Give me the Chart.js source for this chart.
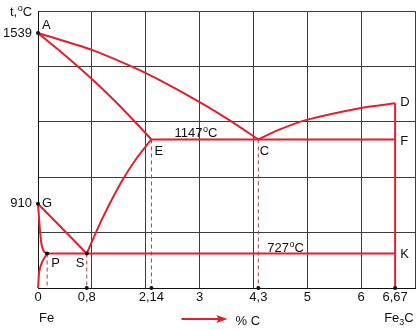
<!DOCTYPE html>
<html>
<head>
<meta charset="utf-8">
<script src="https://cdn.jsdelivr.net/npm/chart.js@4.4.1/dist/chart.umd.min.js"></script>
<style>
html,body{margin:0;padding:0;background:#fff}
</style>
</head>
<body>
<canvas id="diagrama" width="419" height="330"></canvas>
<script>
// подписи осей
const carbonTicks=[0,0.8,2.14,3,4.3,5,6,6.67]
const tempTicks=[910,1539]
const axisDots=[0.8,2.14,4.3,6.67]

// линии диаграммы Fe-Fe3C: [C %, t °C]
const lineAC=[[0,1539],[0.92,1476],[1.75,1414],[2.28,1366],[3.04,1281],[3.65,1219],[4.3,1147]]
const lineAE=[[0,1539],[0.49,1448],[1.03,1349],[1.65,1240],[2.14,1147]]
const lineCD=[[4.3,1147],[4.59,1182],[4.99,1219],[6,1263],[6.67,1280]]
const lineECF=[[2.14,1147],[6.67,1147]]
const lineDK=[[6.67,1280],[6.67,600]]
const lineGS=[[0,910],[0.8,727]]
const lineSE=[[0.8,727],[1.11,851],[1.52,991],[1.83,1077],[2.14,1147]]
const lineGP=[[0,910],[0.03,820],[0.06,758],[0.1,734],[0.15,727]]
const linePQ=[[0,600],[0.005,611],[0.02,660],[0.07,697],[0.15,727]]
const linePSK=[[0.15,727],[6.67,727]]

// характерные точки
const pointNames=['A','G','P','S','E','C','D','F','K']
const pointC=[0,0,0.15,0.8,2.14,4.3,6.67,6.67,6.67]
const pointT=[1539,910,727,727,1147,1147,1280,1147,727]
const isotherms=[1147,727]

const red='#e0202c'
const redDash='#a8404c'
const gridColor='#3c3c3c'
const font='"Liberation Sans", Arial, sans-serif'

// ось x схематичная: сетка через 1, подписи стоят на своих местах
const warpC=[0,0.8,2.14,3,4.3,5,6,6.67,7]
const warpG=[0,0.905,2.106,3,4.091,5,6,6.631,7]

function piecewise(v,from,to){
if(v==null || isNaN(v)) return v
if(v<=from[0]) return to[0]+(v-from[0])
for(let i=1;i<from.length;i++){
if(v<=from[i]){
const k=(v-from[i-1])/(from[i]-from[i-1])
return to[i-1]+k*(to[i]-to[i-1])
}
}
return to[to.length-1]+(v-from[from.length-1])
}

class CarbonScale extends Chart.LinearScale{
getPixelForValue(v){ return super.getPixelForValue(piecewise(v,warpC,warpG)) }
getValueForPixel(p){ return piecewise(super.getValueForPixel(p),warpG,warpC) }
}
CarbonScale.id='carbon'
CarbonScale.defaults=Chart.LinearScale.defaults
Chart.register(CarbonScale)

const xy=pts=>pts.map(p=>({x:p[0],y:p[1]}))

function line(pts,tension){
return {data:xy(pts),borderColor:red,borderWidth:2,pointRadius:0,showLine:true,tension:tension||0,clip:false}
}

function dashed(i){
return {data:xy([[pointC[i],pointT[i]],[pointC[i],600]]),borderColor:redDash,borderWidth:1,borderDash:[4,3],pointRadius:0,showLine:true,clip:false}
}

const dots=[0,1,2,3].map(i=>({x:pointC[i],y:pointT[i]})).concat(axisDots.map(c=>({x:c,y:600})))

const datasets=[
{data:dots,pointRadius:2,pointBackgroundColor:'#111',pointBorderWidth:0,showLine:false,clip:false},
line(lineAC,0.3),line(lineAE,0.3),line(lineCD,0.3),line(lineSE,0.3),
line(lineGP,0.3),line(linePQ,0.3),
line(lineECF),line(lineDK),line(lineGS),line(linePSK),
dashed(2),dashed(3),dashed(4),dashed(5)
]

// "o" вверху как знак градуса
function degText(ctx,txt,x,y){
ctx.font='13px '+font
ctx.fillText(txt,x,y)
x+=ctx.measureText(txt).width+0.5
ctx.font='9px '+font
ctx.fillText('o',x,y-5)
x+=ctx.measureText('o').width
ctx.font='13px '+font
ctx.fillText('C',x,y)
}

const nameOffset={A:[4,-4],G:[4,3],P:[4,13.5],S:[-11,13.5],E:[3,15.6],C:[1.5,15.6],D:[5,2.7],F:[5,5.6],K:[5,4.5]}

const textos={
id:'textos',
afterDraw(chart){
const {ctx,chartArea,scales:{x,y}}=chart
ctx.save()
ctx.fillStyle='#111'
ctx.textBaseline='alphabetic'
ctx.textAlign='left'
ctx.font='13px '+font
pointNames.forEach((n,i)=>{
const o=nameOffset[n]
ctx.fillText(n,x.getPixelForValue(pointC[i])+o[0],y.getPixelForValue(pointT[i])+o[1])
})
degText(ctx,String(isotherms[0]),x.getPixelForValue(2.14)+23,y.getPixelForValue(isotherms[0])-2.7)
degText(ctx,String(isotherms[1]),x.getPixelForValue(4.3)+9,y.getPixelForValue(isotherms[1])-2)
degText(ctx,'t,',10,16)

const by=chartArea.bottom+34
ctx.font='13px '+font
ctx.fillText('Fe',x.getPixelForValue(0)+1,by)
let fx=x.getPixelForValue(6.67)-11
ctx.fillText('Fe',fx,by)
fx+=ctx.measureText('Fe').width
ctx.font='9px '+font
ctx.fillText('3',fx,by+3)
fx+=ctx.measureText('3').width
ctx.font='13px '+font
ctx.fillText('C',fx,by)

// стрелка и подпись % C
const ay=by-3
const ax=chart.width/2-28
ctx.strokeStyle=red
ctx.fillStyle=red
ctx.lineWidth=2
ctx.beginPath()
ctx.moveTo(ax,ay)
ctx.lineTo(ax+38,ay)
ctx.stroke()
ctx.beginPath()
ctx.moveTo(ax+46,ay)
ctx.lineTo(ax+35,ay-4)
ctx.lineTo(ax+37,ay)
ctx.lineTo(ax+35,ay+4)
ctx.closePath()
ctx.fill()
ctx.fillStyle='#111'
ctx.fillText('% C',ax+54,by+2.5)
ctx.restore()
}
}

new Chart(document.getElementById('diagrama'),{
type:'scatter',
data:{datasets:datasets},
options:{
responsive:false,
animation:false,
events:[],
layout:{padding:{top:11,right:2,left:0,bottom:0}},
plugins:{legend:{display:false},tooltip:{enabled:false}},
scales:{
x:{
type:'carbon',
position:'bottom',
min:0,max:7,
grid:{display:false,drawTicks:false},
border:{display:true,color:'#111',width:1},
ticks:{autoSkip:false,maxRotation:0,padding:2,color:'#111',font:{family:font,size:13},
callback:v=>String(v).replace('.',',')},
afterBuildTicks:s=>{s.ticks=carbonTicks.map(v=>({value:v}))},
afterFit:s=>{s.height=42;s.paddingLeft=0;s.paddingRight=0}
},
xg:{
type:'linear',
position:'top',
min:0,max:7,
ticks:{display:false,stepSize:1},
grid:{color:gridColor,lineWidth:1,drawTicks:false},
border:{display:false}
},
y:{
min:600,max:1620,
ticks:{stepSize:204,autoSkip:false,padding:6,color:'#111',font:{family:font,size:13},
callback:(v,i,t)=>t[i].grid?'':String(v)},
grid:{drawTicks:false,lineWidth:1,color:c=>c.tick&&c.tick.grid?gridColor:'rgba(0,0,0,0)'},
border:{display:true,color:'#111',width:1},
afterBuildTicks:s=>{
const t=s.ticks.map(k=>({value:k.value,grid:true})).concat(tempTicks.map(v=>({value:v})))
s.ticks=t.sort((a,b)=>a.value-b.value)
},
afterFit:s=>{s.width=38;s.paddingTop=0;s.paddingBottom=0}
}
}
},
plugins:[textos]
})
</script>
</body>
</html>
